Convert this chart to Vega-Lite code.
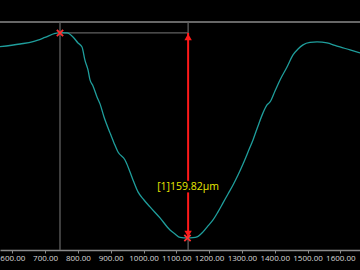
{
  "$schema": "https://vega.github.io/schema/vega-lite/v6.json",
  "width": 360,
  "height": 250,
  "autosize": {"type": "none"},
  "padding": {"left": 0, "right": 0, "top": 0, "bottom": 20},
  "background": "#000000",
  "config": {
    "view": {"stroke": null}
  },
  "datasets": {
    "profile": [
      {"x": 562.5, "y": 149.1}, {"x": 623.5, "y": 151.2}, {"x": 663.1, "y": 153.0}, {"x": 699.7, "y": 156.3},
      {"x": 730.2, "y": 159.4}, {"x": 745.4, "y": 160.1}, {"x": 766.8, "y": 159.8}, {"x": 785.0, "y": 156.7},
      {"x": 800.3, "y": 152.0}, {"x": 812.5, "y": 148.9}, {"x": 821.6, "y": 138.4}, {"x": 830.8, "y": 131.0},
      {"x": 836.9, "y": 123.2}, {"x": 846.0, "y": 118.5}, {"x": 858.2, "y": 109.9}, {"x": 867.4, "y": 104.5},
      {"x": 879.6, "y": 94.3}, {"x": 897.9, "y": 81.9}, {"x": 910.0, "y": 74.1}, {"x": 922.3, "y": 67.0},
      {"x": 943.6, "y": 60.8}, {"x": 968.0, "y": 45.2}, {"x": 983.2, "y": 35.9}, {"x": 1001.5, "y": 29.6},
      {"x": 1019.8, "y": 24.2}, {"x": 1050.3, "y": 15.6}, {"x": 1080.8, "y": 6.2}, {"x": 1096.0, "y": 3.1},
      {"x": 1111.3, "y": 0.4}, {"x": 1134.0, "y": 0.0}, {"x": 1150.9, "y": 0.2}, {"x": 1163.1, "y": 0.8},
      {"x": 1181.4, "y": 4.7}, {"x": 1196.6, "y": 9.4}, {"x": 1211.9, "y": 14.0}, {"x": 1227.1, "y": 20.3},
      {"x": 1242.4, "y": 27.3}, {"x": 1257.6, "y": 34.3}, {"x": 1272.9, "y": 41.3}, {"x": 1288.1, "y": 49.1},
      {"x": 1303.4, "y": 57.7}, {"x": 1318.6, "y": 67.0}, {"x": 1333.8, "y": 76.4}, {"x": 1349.1, "y": 87.3},
      {"x": 1364.3, "y": 97.5}, {"x": 1376.5, "y": 103.7}, {"x": 1385.7, "y": 106.0}, {"x": 1400.9, "y": 114.6},
      {"x": 1416.2, "y": 123.2}, {"x": 1437.5, "y": 133.3}, {"x": 1455.8, "y": 142.7}, {"x": 1471.1, "y": 147.3},
      {"x": 1486.3, "y": 150.5}, {"x": 1507.6, "y": 152.4}, {"x": 1529.0, "y": 152.8}, {"x": 1559.5, "y": 152.0},
      {"x": 1583.8, "y": 150.1}, {"x": 1599.0, "y": 148.9}, {"x": 1629.6, "y": 146.6}, {"x": 1660.0, "y": 144.2}
    ],
    "guides": [
      {"x": 745.4, "x2": 745.4, "y": -9.4, "y2": 168.4},
      {"x": 745.4, "x2": 1136, "y": 159.82, "y2": 159.82},
      {"x": 1136, "x2": 1136, "y": 159.82, "y2": 168.4},
      {"x": 1136, "x2": 1136, "y": -9.4, "y2": 0}
    ],
    "top": [{"x": 562.5, "x2": 1660, "y": 168.4, "y2": 168.4}],
    "measure": [{"x": 1136, "y": 0, "y2": 159.82}],
    "heads": [
      {"x": 1136, "y": 156.6, "dir": "triangle-up"},
      {"x": 1136, "y": 3.2, "dir": "triangle-down"}
    ],
    "marks": [{"x": 745.4, "y": 159.82}, {"x": 1134, "y": 0}],
    "labelbox": [{"x": 1127, "x2": 1146, "y": 35.5, "y2": 44.5}],
    "label": [{"x": 1136, "y": 39.8, "t": "[1]159.82µm"}]
  },
  "encoding": {
    "x": {"field": "x", "type": "quantitative", "scale": {"domain": [562.5, 1660], "nice": false, "zero": false},
      "axis": {"values": [600, 700, 800, 900, 1000, 1100, 1200, 1300, 1400, 1500, 1600], "format": ".2f", "title": null,
        "grid": false, "domainColor": "#8a8a8a", "domainWidth": 1.3, "tickColor": "#8a8a8a", "tickSize": 3,
        "labelColor": "#d8d8d8", "labelFontSize": 8, "labelFont": "Open Sans", "labelPadding": 1.5, "labelFlush": false, "labelOverlap": false, "labelBound": false}},
    "y": {"field": "y", "type": "quantitative", "scale": {"domain": [-9.4, 185.5], "nice": false, "zero": false}, "axis": null}
  },
  "layer": [
    {
      "data": {"name": "top"},
      "mark": {"type": "rule", "color": "#8a8a8a", "strokeWidth": 1.5},
      "encoding": {"x2": {"field": "x2"}, "y2": {"field": "y2"}}
    },
    {
      "data": {"name": "guides"},
      "mark": {"type": "rule", "color": "#606060", "strokeWidth": 1.3},
      "encoding": {"x2": {"field": "x2"}, "y2": {"field": "y2"}}
    },
    {
      "data": {"name": "profile"},
      "mark": {"type": "line", "color": "#1f9e9c", "strokeWidth": 1.3, "interpolate": "monotone"},
      "encoding": {}
    },
    {
      "data": {"name": "measure"},
      "mark": {"type": "rule", "color": "#ff1a1a", "strokeWidth": 2},
      "encoding": {"y2": {"field": "y2"}}
    },
    {
      "data": {"name": "heads"},
      "mark": {"type": "point", "filled": true, "color": "#ff1a1a", "size": 55, "opacity": 1},
      "encoding": {
        "shape": {"field": "dir", "type": "nominal", "scale": {"domain": ["triangle-up", "triangle-down"], "range": ["triangle-up", "triangle-down"]}, "legend": null}
      }
    },
    {
      "data": {"name": "marks"},
      "mark": {"type": "point", "shape": "M-1,-1L1,1M1,-1L-1,1", "filled": false, "stroke": "#ff3030", "strokeWidth": 1.8, "size": 40, "opacity": 1},
      "encoding": {}
    },
    {
      "data": {"name": "labelbox"},
      "mark": {"type": "rect", "color": "#000000"},
      "encoding": {"x2": {"field": "x2"}, "y2": {"field": "y2"}}
    },
    {
      "data": {"name": "label"},
      "mark": {"type": "text", "color": "#e8e800", "fontSize": 10.5, "font": "Open Sans", "align": "center", "baseline": "middle"},
      "encoding": {"text": {"field": "t"}}
    }
  ]
}
